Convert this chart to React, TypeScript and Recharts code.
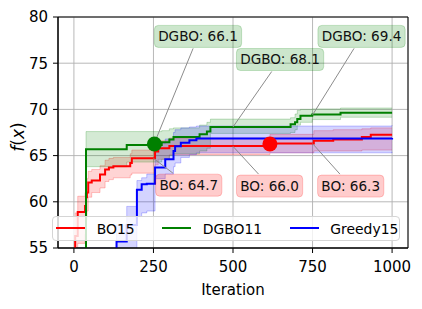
import {
  ComposedChart,
  Line,
  Area,
  XAxis,
  YAxis,
  CartesianGrid,
  ReferenceLine,
  ReferenceDot,
  ReferenceArea,
} from 'recharts';

const FONT = '"DejaVu Sans", sans-serif';

// axes
const X_DOMAIN = [-50, 1050];
const Y_DOMAIN = [55, 80];
const X_TICKS = [0, 250, 500, 750, 1000];
const Y_TICKS = [55, 60, 65, 70, 75, 80];

// BO15
const ITER_BO = [0, 4, 12, 35, 38, 41, 45, 56, 82, 98, 110, 124, 177, 182, 255, 265, 300, 616, 754, 815, 905, 933, 1000];
const F_BO = [53, 56.3, 58.9, 59.55, 60.5, 61.0, 62.1, 62.3, 62.95, 63.5, 63.7, 63.85, 64.2, 64.7, 65.45, 65.8, 66.05, 66.3, 66.6, 66.75, 67.0, 67.25, 67.25];
const LO_BO = [48, 53, 55.5, 56.5, 58.0, 59.0, 60.5, 61.0, 61.5, 62.2, 62.4, 62.6, 62.9, 63.1, 64.0, 64.6, 65.1, 65.3, 65.5, 65.5, 65.6, 65.6, 65.6];
const HI_BO = [54, 58.8, 60.6, 61.0, 62.0, 62.5, 63.3, 63.5, 63.9, 64.5, 64.7, 64.8, 65.2, 65.6, 66.3, 66.6, 66.9, 67.3, 67.7, 67.8, 67.9, 68.0, 68.0];

// DGBO11
const ITER_DGBO = [0, 38, 166, 276, 300, 313, 395, 418, 429, 681, 695, 702, 712, 749, 838, 1000];
const F_DGBO = [50, 65.7, 66.15, 66.45, 66.75, 67.0, 67.3, 67.6, 68.1, 68.4, 68.6, 68.95, 69.3, 69.45, 69.65, 69.65];
const LO_DGBO = [45, 63.8, 64.3, 64.6, 65.0, 65.2, 65.5, 65.8, 67.4, 67.5, 67.8, 68.3, 68.6, 68.9, 69.15, 69.15];
const HI_DGBO = [55, 67.6, 67.6, 67.7, 67.9, 68.0, 68.3, 68.6, 68.95, 69.1, 69.5, 69.9, 70.0, 70.05, 70.15, 70.15];

// Greedy15
const ITER_GREEDY = [0, 134, 166, 198, 213, 229, 255, 287, 313, 318, 336, 363, 385, 1000];
const F_GREEDY = [50, 55.7, 57.5, 61.3, 61.9, 61.95, 63.7, 64.6, 65.5, 66.0, 66.4, 66.65, 66.85, 66.9];
const LO_GREEDY = [45, 53, 54.5, 58.4, 58.8, 59.0, 62.5, 63.0, 63.8, 64.2, 64.8, 65.1, 65.3, 65.4];
const HI_GREEDY = [55, 57.5, 59.5, 62.3, 62.6, 63.0, 66.3, 66.8, 67.5, 67.8, 68.0, 68.1, 68.2, 68.3];

const SERIES = [
  { key: 'bo', name: 'BO15', color: '#ff0000', iters: ITER_BO, f: F_BO, lo: LO_BO, hi: HI_BO },
  { key: 'dgbo', name: 'DGBO11', color: '#008000', iters: ITER_DGBO, f: F_DGBO, lo: LO_DGBO, hi: HI_DGBO },
  { key: 'greedy', name: 'Greedy15', color: '#0000ff', iters: ITER_GREEDY, f: F_GREEDY, lo: LO_GREEDY, hi: HI_GREEDY },
];

// annotations
const ANN_TEXT = ['DGBO: 66.1', 'DGBO: 68.1', 'DGBO: 69.4', 'BO: 64.7', 'BO: 66.0', 'BO: 66.3'];
const ANN_COLOR = ['#008000', '#008000', '#008000', '#ff0000', '#ff0000', '#ff0000'];
const ANN_AT_X = [250, 500, 750, 250, 500, 750];
const ANN_AT_Y = [66.1, 68.1, 69.4, 64.7, 66.0, 66.3];
const ANN_TEXT_X = [390, 648, 904, 361, 615, 870];
const ANN_TEXT_Y = [77.9, 75.4, 77.9, 61.8, 61.7, 61.7];

// highlighted points
const DOT_X = [253, 616];
const DOT_Y = [66.25, 66.25];
const DOT_COLOR = ['#008000', '#ff0000'];

const W = 422;
const H = 309;
const MARGIN = { top: 17, right: 14, bottom: 0, left: 0 };
const Y_AXIS_W = 58;
const X_AXIS_H = 61;
const PX_X = (W - MARGIN.right - Y_AXIS_W) / (X_DOMAIN[1] - X_DOMAIN[0]);
const PX_Y = (H - MARGIN.top - X_AXIS_H) / (Y_DOMAIN[1] - Y_DOMAIN[0]);

const ANN_FONT = 13.6;
const ANN_PAD = 3.5;
const BOX_H = 22;

const CHAR_EM: Record<string, number> = { D: 0.77, G: 0.775, B: 0.686, O: 0.787, ':': 0.337, ' ': 0.318, '.': 0.318 };
const textWidth = (s: string, size: number) => {
  let w = 0;
  for (const ch of s) w += CHAR_EM[ch] ?? 0.636;
  return w * size;
};

// table for recharts, one row per iteration where any series steps
const rowMap = new Map<number, any>();
SERIES.forEach((s) => {
  s.iters.forEach((it, i) => {
    const row = rowMap.get(it) ?? { iter: it };
    row[s.key] = s.f[i];
    row[s.key + 'Band'] = [s.lo[i], s.hi[i]];
    rowMap.set(it, row);
  });
});
const data = [...rowMap.values()].sort((a, b) => a.iter - b.iter);

// arrow starts at the edge of the text box
const arrowStart = (i: number) => {
  const tx = ANN_TEXT_X[i];
  const ty = ANN_TEXT_Y[i];
  const dx = Math.abs((ANN_AT_X[i] - tx) * PX_X) || 1e-6;
  const dy = Math.abs((ANN_AT_Y[i] - ty) * PX_Y) || 1e-6;
  const hw = textWidth(ANN_TEXT[i], ANN_FONT) / 2 + ANN_PAD + 1;
  const hh = BOX_H / 2 + 1;
  const t = Math.min(hw / dx, hh / dy);
  return { x: tx + (ANN_AT_X[i] - tx) * t, y: ty + (ANN_AT_Y[i] - ty) * t };
};

const AnnBox = ({ cx, cy, text, color }: any) => {
  const w = textWidth(text, ANN_FONT) + 2 * ANN_PAD;
  return (
    <g>
      <rect
        x={cx - w / 2}
        y={cy - BOX_H / 2}
        width={w}
        height={BOX_H}
        rx={4}
        fill={color}
        fillOpacity={0.2}
        stroke={color}
        strokeOpacity={0.2}
      />
      <text x={cx} y={cy} dy="0.36em" textAnchor="middle" fontSize={ANN_FONT} fontFamily={FONT} fill="#111">
        {text}
      </text>
    </g>
  );
};

const YLabel = () => (
  <text x={24} y={137} transform="rotate(-90 24 137)" textAnchor="middle" fontSize={17} fontFamily={FONT} fill="#000">
    <tspan fontStyle="italic">f</tspan>(<tspan fontStyle="italic">x</tspan>)
  </text>
);

export default function App() {
  return (
    <div style={{ position: 'absolute', left: 0, top: 0, width: W, height: H, background: '#fff', fontFamily: FONT }}>
      <ComposedChart width={W} height={H} data={data} margin={MARGIN}>
        <CartesianGrid stroke="#b0b0b0" strokeWidth={0.9} />
        <XAxis
          dataKey="iter"
          type="number"
          domain={X_DOMAIN}
          ticks={X_TICKS}
          allowDataOverflow
          height={X_AXIS_H}
          tickSize={5}
          tickMargin={8}
          tick={{ fill: '#000', fontSize: 15, fontFamily: FONT }}
          tickLine={{ stroke: '#000' }}
          axisLine={{ stroke: '#000' }}
          label={{ value: 'Iteration', position: 'insideBottom', offset: 14, fill: '#000', fontSize: 15, fontFamily: FONT }}
        />
        <YAxis
          type="number"
          domain={Y_DOMAIN}
          ticks={Y_TICKS}
          allowDataOverflow
          width={Y_AXIS_W}
          tickSize={5}
          tickMargin={5}
          tick={{ fill: '#000', fontSize: 15, fontFamily: FONT }}
          tickLine={{ stroke: '#000' }}
          axisLine={{ stroke: '#000' }}
          label={{ content: YLabel }}
        />
        {SERIES.map((s) => (
          <Area
            key={s.key + 'Band'}
            dataKey={s.key + 'Band'}
            type="stepAfter"
            connectNulls
            fill={s.color}
            fillOpacity={0.17}
            stroke={s.color}
            strokeOpacity={0.22}
            strokeWidth={1}
            dot={false}
            activeDot={false}
            legendType="none"
            isAnimationActive={false}
          />
        ))}
        {SERIES.map((s) => (
          <Line
            key={s.key}
            dataKey={s.key}
            name={s.name}
            type="stepAfter"
            connectNulls
            stroke={s.color}
            strokeWidth={2}
            dot={false}
            activeDot={false}
            isAnimationActive={false}
          />
        ))}
        <ReferenceArea
          x1={X_DOMAIN[0]}
          x2={X_DOMAIN[1]}
          y1={Y_DOMAIN[0]}
          y2={Y_DOMAIN[1]}
          fill="none"
          fillOpacity={0}
          stroke="#000"
          strokeWidth={1}
        />
        {DOT_X.map((x, i) => (
          <ReferenceDot key={'dot' + i} x={x} y={DOT_Y[i]} r={7.5} fill={DOT_COLOR[i]} stroke="none" />
        ))}
        {ANN_TEXT.map((t, i) => {
          const s = arrowStart(i);
          return (
            <ReferenceLine
              key={'arr' + i}
              segment={[
                { x: s.x, y: s.y },
                { x: ANN_AT_X[i], y: ANN_AT_Y[i] },
              ]}
              stroke="#8c8c8c"
              strokeWidth={1}
              ifOverflow="visible"
            />
          );
        })}
        {ANN_TEXT.map((t, i) => (
          <ReferenceDot
            key={'ann' + i}
            x={ANN_TEXT_X[i]}
            y={ANN_TEXT_Y[i]}
            r={1}
            ifOverflow="visible"
            shape={(p: any) => <AnnBox cx={p.cx} cy={p.cy} text={t} color={ANN_COLOR[i]} />}
          />
        ))}
      </ComposedChart>
      <div
        style={{
          position: 'absolute',
          left: 52,
          top: 216,
          width: 348,
          height: 25,
          boxSizing: 'border-box',
          border: '1px solid #d5d5d5',
          borderRadius: 4,
          background: 'rgba(255,255,255,0.8)',
          display: 'flex',
          alignItems: 'center',
          paddingLeft: 3,
          fontSize: 13.9,
          color: '#000',
        }}
      >
        {SERIES.map((s) => (
          <div key={s.key} style={{ display: 'flex', alignItems: 'center', marginRight: 27.5 }}>
            <div style={{ width: 29, height: 2, background: s.color, marginTop: -2 }} />
            <span style={{ marginLeft: 11.7, lineHeight: '16px' }}>{s.name}</span>
          </div>
        ))}
      </div>
    </div>
  );
}
